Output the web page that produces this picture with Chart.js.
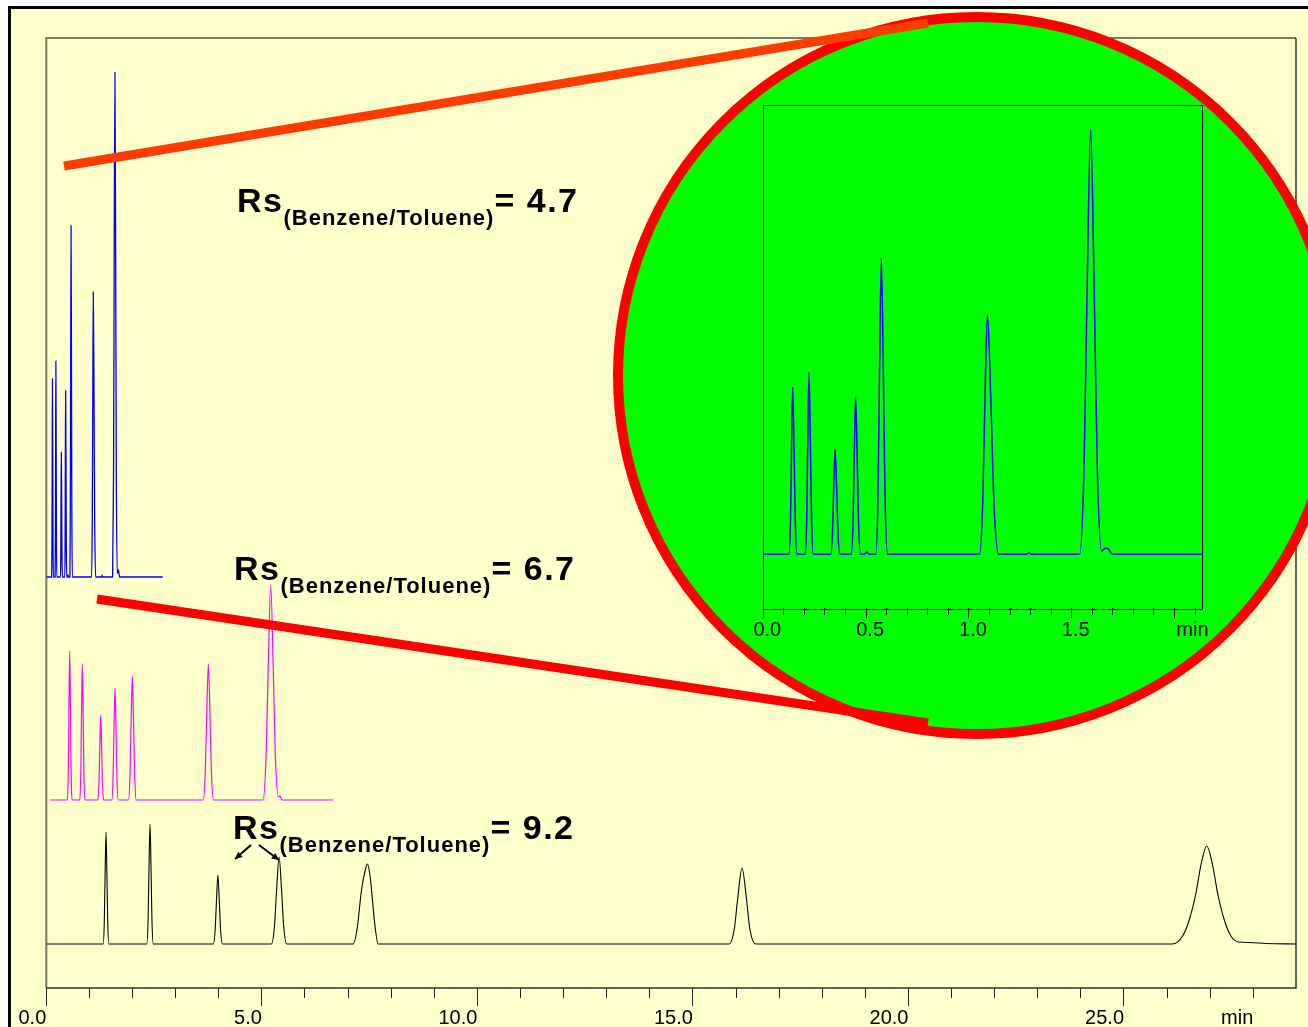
<!DOCTYPE html>
<html><head><meta charset="utf-8">
<script src="https://cdn.jsdelivr.net/npm/chart.js@4.4.1/dist/chart.umd.min.js"></script>
<style>
html,body{margin:0;padding:0;width:1308px;height:1027px;overflow:hidden;background:#fff;}
#frame{position:absolute;left:8px;top:6px;width:1400px;height:1100px;border-top:3px solid #000;border-left:3px solid #000;background:#ffffcc;}
#main{position:absolute;left:0;top:0;}
#inset{position:absolute;left:700px;top:80px;}
.rs{position:absolute;font-family:'Liberation Sans',Arial,sans-serif;font-weight:bold;font-size:34px;line-height:34px;letter-spacing:1.5px;white-space:nowrap;color:#000;}
.rs span{font-size:22px;letter-spacing:1px;vertical-align:-13px;}
</style></head>
<body>
<div id="frame"></div>
<canvas id="main" width="1308" height="1027"></canvas>
<canvas id="inset" width="560" height="600"></canvas>
<div class="rs" style="left:237px;top:183px">Rs<span>(Benzene/Toluene)</span>= 4.7</div>
<div class="rs" style="left:234px;top:551px">Rs<span>(Benzene/Toluene)</span>= 6.7</div>
<div class="rs" style="left:233px;top:810px">Rs<span>(Benzene/Toluene)</span>= 9.2</div>
<script>
// ---- data (time in min, signal in detector units) ----
// fast run (blue) - shown in main chart and in the zoomed inset
const blueTime = [0, 0.125,0.1322,0.137,0.143,0.150,0.1556,0.164, 0.204,0.2112,0.216,0.222,0.229,0.2346,0.243,
  0.328,0.3364,0.342,0.349,0.357,0.3634,0.373, 0.428,0.4364,0.442,0.449,0.457,0.4634,0.473, 0.490,0.503,0.516,
  0.547,0.5578,0.565,0.574,0.584,0.592,0.604, 1.051,1.0666,1.077,1.090,1.108,1.1224,1.144, 1.280,1.292,1.304,
  1.538,1.5596,1.574,1.592,1.610,1.6244,1.646,1.662,1.672,1.700, 2.70];
const blueSignal = [0, 0,33,100,167,100,33,0, 0,36,109,182,109,36,0,
  0,21,63,105,63,21,0, 0,31,94,157,94,31,0, 0,2,0,
  0,59,178,296,178,59,0, 0,48,144,240,144,48,0, 0,1.5,0,
  0,85,255,425,255,85,3,6,6,0, 0];
// medium run (magenta)
const magTime = [0.086, 0.489,0.511,0.525,0.543,0.561,0.575,0.597, 0.776,0.800,0.816,0.836,0.856,0.872,0.896,
  1.196,1.222,1.240,1.262,1.284,1.302,1.328, 1.519,1.549,1.569,1.594,1.619,1.639,1.669,
  1.906,1.942,1.966,1.996,2.026,2.050,2.086, 3.639,3.687,3.719,3.759,3.799,3.831,3.879,
  5.026,5.098,5.146,5.206,5.266,5.314,5.386,5.420,5.470, 6.660];
const magSignal = [0, 0,30,89,149,89,30,0, 0,27,82,136,82,27,0,
  0,17,51,85,51,17,0, 0,22,67,112,67,22,0,
  0,25,74,124,74,25,0, 0,27,82,136,82,27,0,
  0,43,129,215,129,43,3,4,0, 0];
// slow run (black)
const blackTime = [0, 1.319,1.345,1.363,1.385,1.407,1.425,1.451, 2.331,2.361,2.381,2.406,2.431,2.451,2.481,
  3.875,3.917,3.945,3.980,4.015,4.043,4.085, 5.220,5.292,5.340,5.400,5.460,5.508,5.580,
  7.12,7.22,7.30,7.35,7.40,7.45,7.51,7.57,7.63,7.70, 15.84,15.96,16.04,16.14,16.24,16.32,16.46,
  26.12,26.36,26.52,26.66,26.79,26.92,27.05,27.18,27.32,27.48,27.66,27.90,28.30, 28.99];
const blackSignal = [0, 0,22,67,112,67,22,0, 0,24,72,120,72,24,0,
  0,14,41,69,41,14,0, 0,17,52,87,52,17,0,
  0,18,50,64,74,80,68,42,16,0, 0,15,46,76,46,15,0,
  0,8,25,49,80,98,80,49,25,8,2,1.5,0.5, 0];
// axis ticks
const mainMajorEvery = 5;      // labelled every 5 min
const mainUnitTick = 28;       // tick carrying the unit label
const insetMajorEvery = 0.5;
const insetUnitTick = 2.0;
const unitLabel = 'min';

const FONT = "'Liberation Sans', Arial, sans-serif";
const pts = (t, s) => t.map((v, i) => ({x: v, y: s[i]}));

const mainFrame = {
  id: 'mainFrame',
  beforeDatasetsDraw(chart) {
    const {ctx, chartArea: a} = chart;
    ctx.save();
    ctx.lineWidth = 2; ctx.strokeStyle = '#7a7a5c';
    ctx.beginPath(); ctx.moveTo(a.left, a.bottom); ctx.lineTo(a.left, a.top); ctx.lineTo(a.right, a.top); ctx.stroke();
    ctx.lineWidth = 1.5; ctx.strokeStyle = '#303030';
    ctx.beginPath(); ctx.moveTo(a.right, a.top); ctx.lineTo(a.right, a.bottom); ctx.lineTo(a.left, a.bottom); ctx.stroke();
    ctx.restore();
  }
};
function arrow(ctx, x1, y1, x2, y2) {
  const ang = Math.atan2(y2 - y1, x2 - x1), L = 8;
  ctx.beginPath(); ctx.moveTo(x1, y1); ctx.lineTo(x2, y2); ctx.stroke();
  ctx.beginPath(); ctx.moveTo(x2, y2);
  ctx.lineTo(x2 - L * Math.cos(ang - 0.45), y2 - L * Math.sin(ang - 0.45));
  ctx.lineTo(x2 - L * Math.cos(ang + 0.45), y2 - L * Math.sin(ang + 0.45));
  ctx.closePath(); ctx.fill();
}
const deco = {
  id: 'deco',
  afterDraw(chart) {
    const ctx = chart.ctx;
    ctx.save();
    // zoom circle
    ctx.beginPath(); ctx.arc(976.5, 375.5, 358.5, 0, Math.PI * 2);
    ctx.fillStyle = '#00ff00'; ctx.fill();
    ctx.lineWidth = 10; ctx.strokeStyle = '#ff0000'; ctx.stroke();
    // connector lines
    ctx.lineCap = 'butt'; ctx.lineWidth = 9;
    ctx.strokeStyle = '#ff3c00';
    ctx.beginPath(); ctx.moveTo(64, 166); ctx.lineTo(928, 23); ctx.stroke();
    ctx.strokeStyle = '#ff0000';
    ctx.beginPath(); ctx.moveTo(97, 599); ctx.lineTo(928, 723); ctx.stroke();
    // arrows
    ctx.strokeStyle = '#000'; ctx.fillStyle = '#000'; ctx.lineWidth = 2;
    arrow(ctx, 251, 845, 235, 859);
    arrow(ctx, 259, 845, 279, 860);
    ctx.restore();
  }
};

new Chart(document.getElementById('main'), {
  type: 'line',
  data: {datasets: [
    {label: 'Fast', data: pts(blueTime, blueSignal), yAxisID: 'yBlue', borderColor: '#0000ff', borderWidth: 1.3},
    {label: 'Medium', data: pts(magTime, magSignal), yAxisID: 'yMag', borderColor: '#ff00ff', borderWidth: 1.2},
    {label: 'Slow', data: pts(blackTime, blackSignal), yAxisID: 'yBlack', borderColor: '#000000', borderWidth: 1.1}
  ]},
  options: {
    responsive: false, animation: false, events: [],
    layout: {padding: {left: 46.3, top: 38, right: 12, bottom: 0}},
    elements: {point: {radius: 0}, line: {cubicInterpolationMode: 'monotone', fill: false}},
    plugins: {legend: {display: false}, tooltip: {enabled: false}},
    scales: {
      x: {
        type: 'linear', position: 'bottom', min: 0, max: 28.99,
        afterFit(s) { s.height = 39; },
        border: {display: false},
        grid: {display: true, drawOnChartArea: false, drawTicks: true, tickLength: 18, tickColor: '#222', tickWidth: 1,
          tickBorderDash: ctx => (ctx.tick && Math.round(ctx.tick.value) % mainMajorEvery !== 0) ? [10, 60] : []},
        ticks: {stepSize: 1, autoSkip: false, includeBounds: false, align: 'end', padding: 0, maxRotation: 0,
          color: '#000', font: {family: FONT, size: 20},
          callback: v => (Math.round(v) % mainMajorEvery === 0) ? v.toFixed(1) : (Math.round(v) === mainUnitTick ? unitLabel : '')}
      },
      yBlue: {axis: 'y', display: false, min: -346.1, max: 453.9},
      yMag: {axis: 'y', display: false, min: -188, max: 762},
      yBlack: {axis: 'y', display: false, min: -44, max: 906}
    }
  },
  plugins: [mainFrame, deco]
});

const insetFrame = {
  id: 'insetFrame',
  beforeDatasetsDraw(chart) {
    const {ctx, chartArea: a} = chart;
    ctx.save(); ctx.lineWidth = 1; ctx.strokeStyle = '#000';
    ctx.strokeRect(Math.round(a.left) + 0.5, Math.round(a.top) + 0.5, Math.round(a.right - a.left), Math.round(a.bottom - a.top));
    ctx.restore();
  }
};
new Chart(document.getElementById('inset'), {
  type: 'line',
  data: {datasets: [{label: 'Fast (zoom)', data: pts(blueTime, blueSignal), borderColor: '#0000ff', borderWidth: 1.5}]},
  options: {
    responsive: false, animation: false, events: [],
    layout: {padding: {left: 63.3, top: 24.5, right: 57.7, bottom: 0}},
    elements: {point: {radius: 0}, line: {cubicInterpolationMode: 'monotone', fill: false}},
    plugins: {legend: {display: false}, tooltip: {enabled: false}},
    scales: {
      x: {
        type: 'linear', position: 'bottom', min: 0, max: 2.135,
        afterFit(s) { s.height = 72; },
        border: {display: false},
        grid: {display: true, drawOnChartArea: false, drawTicks: true, tickLength: 10, tickColor: '#000', tickWidth: 1,
          tickBorderDash: ctx => (ctx.tick && Math.round(ctx.tick.value * 10) % Math.round(insetMajorEvery * 10) !== 0) ? [7, 60] : []},
        ticks: {stepSize: 0.1, autoSkip: false, includeBounds: false, padding: 0, labelOffset: 4, maxRotation: 0,
          color: '#000', font: {family: FONT, size: 20},
          callback: v => {
            const k = Math.round(v * 10);
            if (k === Math.round(insetUnitTick * 10)) return '     ' + unitLabel;
            return (k % Math.round(insetMajorEvery * 10) === 0) ? (k / 10).toFixed(1) : '';
          }}
      },
      y: {display: false, min: -53.7, max: 449.8}
    }
  },
  plugins: [insetFrame]
});
</script>
</body></html>
